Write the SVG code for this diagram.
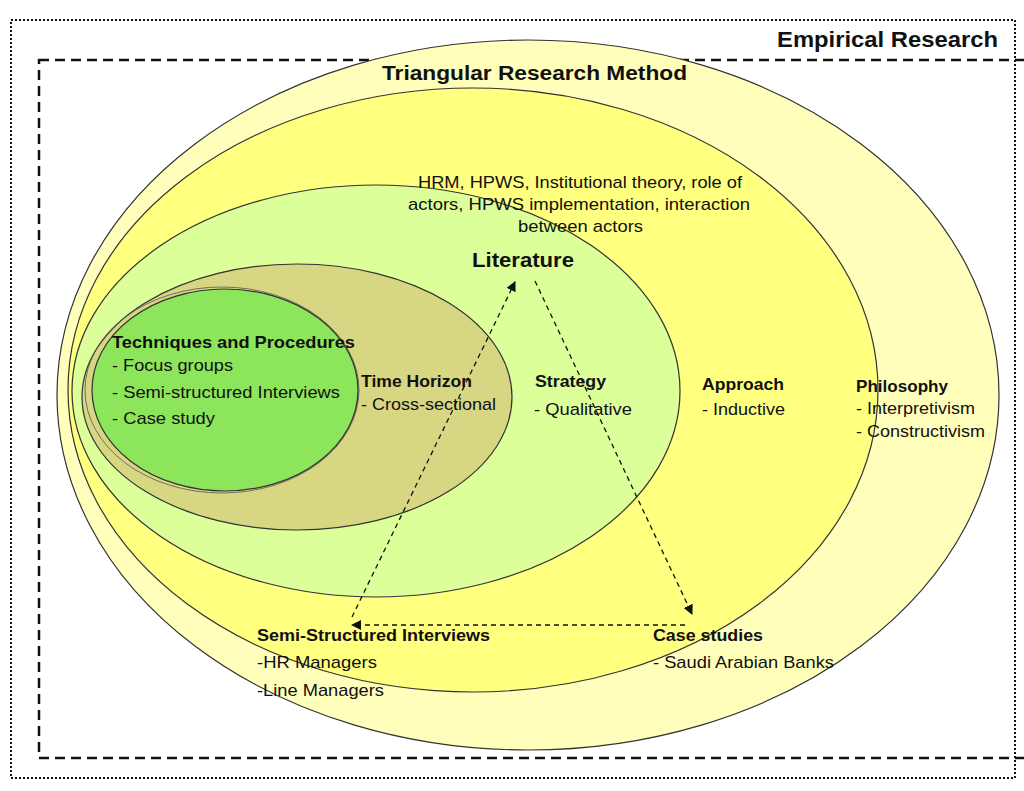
<svg xmlns="http://www.w3.org/2000/svg" width="1024" height="791" viewBox="0 0 1024 791">
<style>
.e{stroke:#333;stroke-width:1.2}
.t{font-family:"Liberation Sans",Arial,sans-serif;font-size:17px;fill:#111}
.b{font-weight:bold}
.c{stroke:#111;stroke-width:1.3;stroke-dasharray:5,4;fill:none}
</style>
<defs>
<marker id="ah" markerWidth="10" markerHeight="10" refX="9" refY="5" orient="auto" markerUnits="userSpaceOnUse">
<path d="M0,0 L10,5 L0,10 z" fill="#111"/>
</marker>
</defs>
<rect width="1024" height="791" fill="#fff"/>
<g id="empirical">
<rect x="11" y="20" width="1004" height="758" fill="none" stroke="#111" stroke-width="2" stroke-dasharray="2,2"/>
<text class="t b" x="777" y="47" style="font-size:22px" textLength="221" lengthAdjust="spacingAndGlyphs">Empirical Research</text>
</g>
<g id="triangular">
<rect x="39" y="60" width="1000" height="698" fill="none" stroke="#111" stroke-width="2.5" stroke-dasharray="10,6"/>
</g>
<g id="philosophy">
<ellipse class="e" cx="528" cy="395" rx="471" ry="355" fill="#FFFFBB"/>
<text class="t b" x="382" y="80" style="font-size:20px" textLength="305" lengthAdjust="spacingAndGlyphs">Triangular Research  Method</text>
</g>
<g id="approach">
<ellipse class="e" cx="473" cy="390" rx="405" ry="302" fill="#FFFF80"/>
</g>
<g id="strategy">
<ellipse class="e" cx="376" cy="391" rx="304" ry="206" fill="#DDFF99"/>
</g>
<g id="timehorizon">
<ellipse class="e" cx="297" cy="397" rx="215" ry="133" fill="#D6D683"/>
<ellipse cx="222" cy="390" rx="137" ry="103" fill="none" stroke="#555" stroke-width="0.8"/>
</g>
<g id="techniques">
<ellipse class="e" cx="225" cy="390" rx="133" ry="101" fill="#8CE55A"/>
<text class="t b" x="112" y="348" textLength="243" lengthAdjust="spacingAndGlyphs">Techniques and Procedures</text>
<text class="t" x="112" y="371" textLength="121" lengthAdjust="spacingAndGlyphs">- Focus groups</text>
<text class="t" x="112" y="398" textLength="228" lengthAdjust="spacingAndGlyphs">- Semi-structured Interviews</text>
<text class="t" x="112" y="424" textLength="103" lengthAdjust="spacingAndGlyphs">- Case study</text>
</g>
<g id="labels">
<text class="t b" x="361" y="387" textLength="111" lengthAdjust="spacingAndGlyphs">Time Horizon</text>
<text class="t" x="361" y="410" textLength="135" lengthAdjust="spacingAndGlyphs">- Cross-sectional</text>
<text class="t b" x="535" y="387" textLength="71" lengthAdjust="spacingAndGlyphs">Strategy</text>
<text class="t" x="534" y="415" textLength="98" lengthAdjust="spacingAndGlyphs">- Qualitative</text>
<text class="t b" x="702" y="390" textLength="82" lengthAdjust="spacingAndGlyphs">Approach</text>
<text class="t" x="702" y="415" textLength="83" lengthAdjust="spacingAndGlyphs">- Inductive</text>
<text class="t b" x="856" y="392" textLength="92" lengthAdjust="spacingAndGlyphs">Philosophy</text>
<text class="t" x="856" y="414" textLength="119" lengthAdjust="spacingAndGlyphs">- Interpretivism</text>
<text class="t" x="856" y="437" textLength="129" lengthAdjust="spacingAndGlyphs">- Constructivism</text>
</g>
<g id="literature">
<text class="t" x="418" y="188" textLength="324" lengthAdjust="spacingAndGlyphs">HRM, HPWS, Institutional theory, role of</text>
<text class="t" x="408" y="210" textLength="342" lengthAdjust="spacingAndGlyphs">actors, HPWS implementation, interaction</text>
<text class="t" x="518" y="232" textLength="125" lengthAdjust="spacingAndGlyphs">between actors</text>
<text class="t b" x="472" y="267" style="font-size:20px" textLength="102" lengthAdjust="spacingAndGlyphs">Literature</text>
</g>
<g id="interviews">
<text class="t b" x="257" y="641" textLength="233" lengthAdjust="spacingAndGlyphs">Semi-Structured Interviews</text>
<text class="t" x="257" y="668" textLength="120" lengthAdjust="spacingAndGlyphs">-HR Managers</text>
<text class="t" x="257" y="696" textLength="127" lengthAdjust="spacingAndGlyphs">-Line Managers</text>
</g>
<g id="casestudies">
<text class="t b" x="653" y="641" textLength="110" lengthAdjust="spacingAndGlyphs">Case studies</text>
<text class="t" x="653" y="668" textLength="181" lengthAdjust="spacingAndGlyphs">- Saudi Arabian Banks</text>
</g>
<g id="connectors">
<line class="c" x1="352" y1="617" x2="515" y2="282" marker-end="url(#ah)"/>
<line class="c" x1="535" y1="281" x2="692" y2="614" marker-end="url(#ah)"/>
<line class="c" x1="685" y1="625" x2="352" y2="625" marker-end="url(#ah)"/>
</g>
</svg>
